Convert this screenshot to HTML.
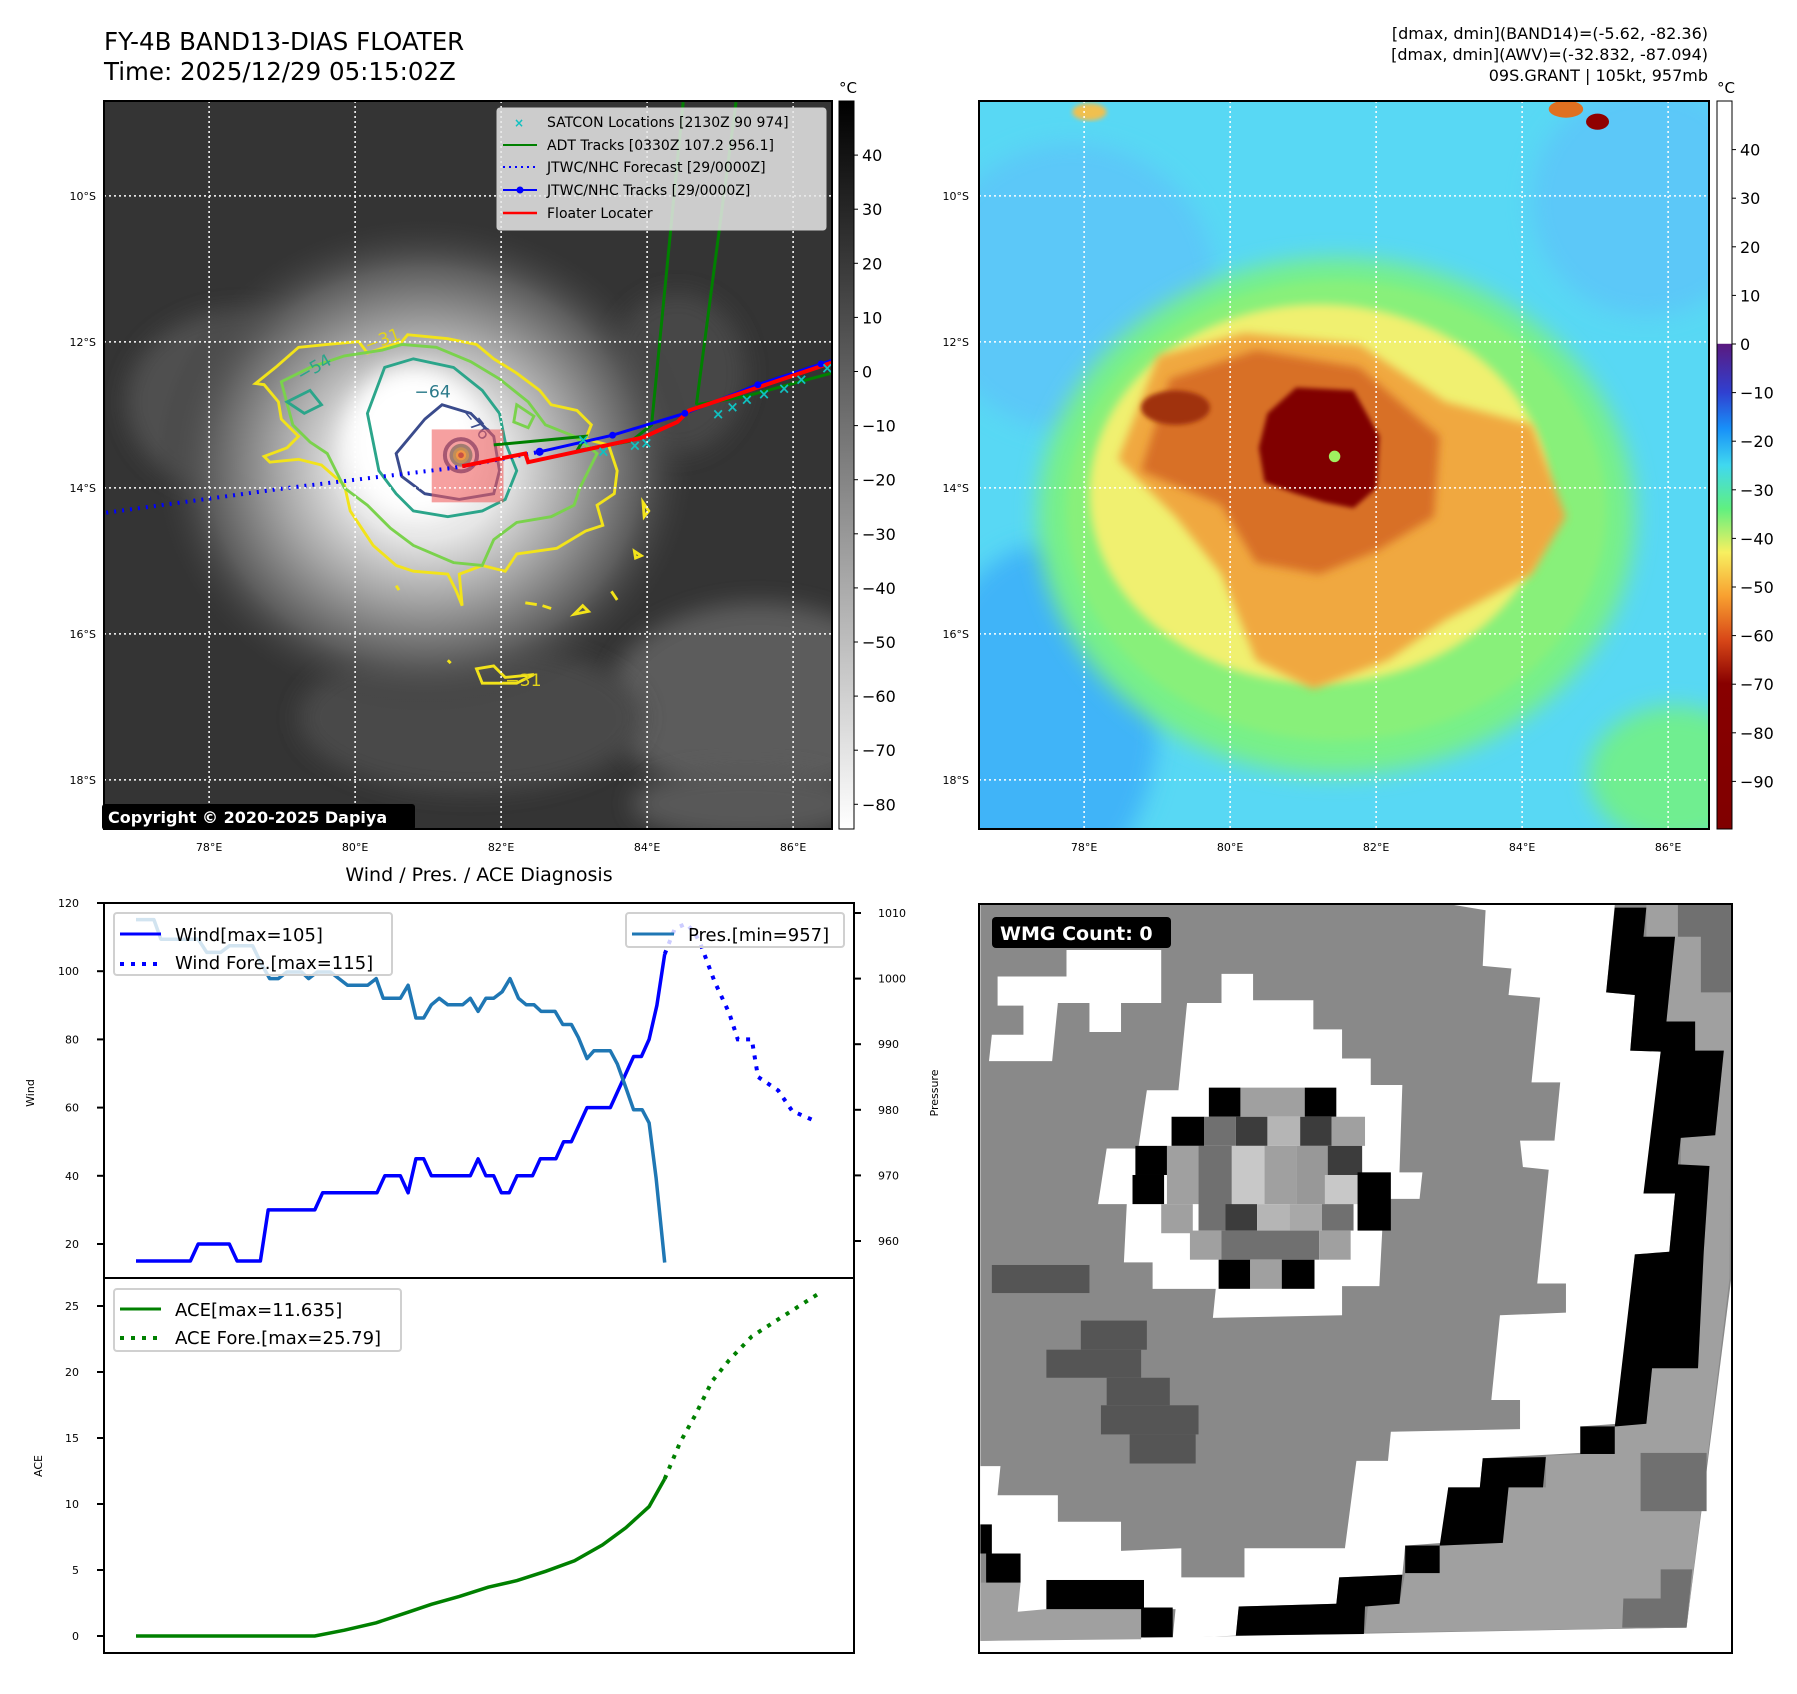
<!DOCTYPE html>
<html><head><meta charset="utf-8">
<style>
html,body{margin:0;padding:0;background:#fff;}
body{width:1797px;height:1690px;overflow:hidden;font-family:"DejaVu Sans","Liberation Sans",sans-serif;}
svg text{font-family:"DejaVu Sans","Liberation Sans",sans-serif;}
</style></head>
<body>
<svg id="root" width="1797" height="1690" viewBox="0 0 1797 1690" xmlns="http://www.w3.org/2000/svg">
<defs>
  <filter id="blur8" x="-20%" y="-20%" width="140%" height="140%"><feGaussianBlur stdDeviation="8"/></filter>
  <filter id="blur20" x="-30%" y="-30%" width="160%" height="160%"><feGaussianBlur stdDeviation="20"/></filter>
  <filter id="blur4"><feGaussianBlur stdDeviation="4"/></filter>
  <radialGradient id="cloudG" cx="0.5" cy="0.5" r="0.5">
    <stop offset="0" stop-color="#ffffff"/>
    <stop offset="0.3" stop-color="#e6e6e6"/>
    <stop offset="0.55" stop-color="#a4a4a4"/>
    <stop offset="0.8" stop-color="#5e5e5e"/>
    <stop offset="1" stop-color="#3a3a3a" stop-opacity="0"/>
  </radialGradient>
  <linearGradient id="cbGray" x1="0" y1="0" x2="0" y2="1">
    <stop offset="0" stop-color="#000"/><stop offset="1" stop-color="#fff"/>
  </linearGradient>
  <linearGradient id="cbJet" x1="0" y1="0" x2="0" y2="1">
    <stop offset="0" stop-color="#ffffff"/>
    <stop offset="0.333" stop-color="#ffffff"/>
    <stop offset="0.334" stop-color="#5a1a80"/>
    <stop offset="0.40" stop-color="#3040d0"/>
    <stop offset="0.45" stop-color="#1890f8"/>
    <stop offset="0.50" stop-color="#40d8f0"/>
    <stop offset="0.56" stop-color="#60f080"/>
    <stop offset="0.62" stop-color="#f8f060"/>
    <stop offset="0.68" stop-color="#f8a030"/>
    <stop offset="0.74" stop-color="#d84818"/>
    <stop offset="0.80" stop-color="#880000"/>
    <stop offset="1" stop-color="#800000"/>
  </linearGradient>
  <clipPath id="clipL"><rect x="104" y="101" width="728" height="728"/></clipPath>
  <clipPath id="clipR"><rect x="979" y="101" width="730" height="728"/></clipPath>
  <clipPath id="clipW"><rect x="979" y="904" width="753" height="749"/></clipPath>
</defs>

<!-- ================= LEFT MAP ================= -->
<text x="104" y="50" font-size="24.5">FY-4B BAND13-DIAS FLOATER</text>
<text x="104" y="80" font-size="24.5">Time: 2025/12/29 05:15:02Z</text>

<g clip-path="url(#clipL)">
  <rect x="104" y="101" width="728" height="728" fill="#343434"/>
  <g transform="scale(0.5741)">
    <ellipse cx="1320" cy="1220" rx="260" ry="170" fill="#5c5c5c" filter="url(#blur20)"/>
    <ellipse cx="820" cy="1250" rx="300" ry="130" fill="#4a4a4a" filter="url(#blur20)"/>
    <ellipse cx="420" cy="700" rx="200" ry="160" fill="#505050" filter="url(#blur20)"/>
    <ellipse cx="1180" cy="650" rx="120" ry="140" fill="#464646" filter="url(#blur20)"/>
    <ellipse cx="1300" cy="1400" rx="200" ry="60" fill="#585858" filter="url(#blur20)"/>
    <ellipse cx="740" cy="810" rx="470" ry="430" fill="url(#cloudG)"/>
    <ellipse cx="720" cy="770" rx="120" ry="130" fill="#fff" filter="url(#blur20)"/>
    <g fill="none" stroke-width="3" vector-effect="non-scaling-stroke">
      <path stroke="#f2e31a" stroke-width="5" d="M445,668 L480,640 L520,605 L570,600 L625,595 L640,615 L700,595 L710,583 L780,590 L830,600 L860,625 L900,650 L940,680 L960,705 L1005,715 L1030,740 L1020,765 L1060,775 L1075,820 L1070,860 L1040,880 L1050,915 L1020,925 L970,955 L900,965 L880,995 L840,985 L800,1000 L805,1055 L795,1030 L780,1000 L720,995 L690,985 L650,950 L630,920 L610,890 L600,845 L560,810 L520,800 L470,805 L460,795 L500,780 L520,760 L490,730 L485,700 L460,670 Z M1120,875 l10,15 l-8,10 Z M1105,960 l12,8 l-10,4 Z M1000,1070 l15,-15 l10,10 Z M915,1050 l20,3 M945,1055 l15,5 M830,1165 l30,-5 l20,20 l50,-5 l-30,15 l-60,0 Z M780,1150 l5,5 M690,1020 l5,8 M1065,1030 l10,15"/>
      <path stroke="#7ad24c" stroke-width="5" d="M490,665 L540,640 L600,620 L665,610 L700,600 L760,605 L820,630 L870,660 L920,700 L950,740 L1000,760 L1040,790 L1010,850 L1000,880 L960,900 L900,910 L860,940 L840,985 L790,980 L720,950 L680,920 L640,880 L600,850 L570,790 L540,770 L510,740 Z M900,705 l30,20 l-10,20 l-25,-10 Z"/>
      <path stroke="#2ba58a" stroke-width="5" d="M670,640 L720,625 L790,640 L840,680 L870,720 L880,770 L900,820 L880,870 L840,890 L780,900 L720,890 L690,860 L660,820 L650,770 L640,720 Z M500,700 l40,-20 l20,25 l-30,15 Z"/>
      <path stroke="#3a4b8c" stroke-width="5" d="M740,730 L770,705 L820,720 L860,760 L870,820 L860,860 L800,870 L740,860 L700,830 L690,790 Z"/>
    </g>
    <circle cx="803" cy="793" r="28" fill="none" stroke="#3a4b8c" stroke-width="4" vector-effect="non-scaling-stroke"/>
    <circle cx="803" cy="793" r="20" fill="#2ba58a"/>
    <circle cx="803" cy="793" r="14" fill="#7ad24c"/>
    <circle cx="803" cy="793" r="9" fill="#f2e31a"/>
    <circle cx="803" cy="793" r="5" fill="#8a3a1a"/>
    <text x="525" y="665" font-size="30" fill="#2ba58a" transform="rotate(-30 525 665)">−54</text>
    <text x="722" y="692" font-size="30" fill="#2b7a8a">−64</text>
    <text x="800" y="720" font-size="30" fill="#3a4b8c" transform="rotate(50 800 720)">−76</text>
    <text x="640" y="612" font-size="30" fill="#e2d31a" transform="rotate(-20 640 612)">−31</text>
    <text x="880" y="1195" font-size="30" fill="#e2d31a">−31</text>
    <rect x="752" y="748" width="125" height="127" fill="#f06060" fill-opacity="0.6"/>
    <g fill="none" vector-effect="non-scaling-stroke">
      <path stroke="#008000" stroke-width="3" vector-effect="non-scaling-stroke" d="M860,775 L1020,760 L1005,785 L1100,768 L1135,740 L1190,178 M1213,705 L1282,178 M1213,705 L1300,690 L1448,650"/>
      <path stroke="#0000ff" stroke-width="4" stroke-dasharray="2,6" vector-effect="non-scaling-stroke" d="M185,893 L500,850 L790,815 L940,787"/>
      <path stroke="#0000ff" stroke-width="3" vector-effect="non-scaling-stroke" d="M940,787 L1067,758 L1193,720 L1320,670 L1448,628"/>
      <path stroke="#ff0000" stroke-width="4" vector-effect="non-scaling-stroke" d="M805,812 L915,790 L920,805 L1120,762 L1180,735 L1200,715 L1448,632"/>
    </g>
    <g fill="#0000ff"><circle cx="940" cy="787" r="7"/><circle cx="1067" cy="758" r="6"/><circle cx="1193" cy="720" r="6"/><circle cx="1320" cy="670" r="6"/><circle cx="1430" cy="634" r="6"/></g>
    <g fill="#10c0c0" font-size="26" font-weight="bold">
      <text x="1005" y="775">×</text><text x="1040" y="795">×</text><text x="1095" y="785">×</text><text x="1115" y="780">×</text>
      <text x="1240" y="730">×</text><text x="1265" y="718">×</text><text x="1290" y="705">×</text><text x="1320" y="695">×</text><text x="1355" y="685">×</text><text x="1385" y="670">×</text><text x="1430" y="650">×</text>
    </g>
  </g>
  <g id="gridL"></g>
</g>
<rect x="104" y="101" width="728" height="728" fill="none" stroke="#000" stroke-width="2"/>

<g>
  <rect x="497" y="108" width="329" height="122" rx="3" fill="#e8e8e8" fill-opacity="0.85" stroke="#ccc"/>
  <text x="519" y="127" font-size="12" fill="#10c0c0" font-weight="bold" text-anchor="middle">×</text>
  <text x="547" y="127" font-size="14">SATCON Locations [2130Z 90 974]</text>
  <line x1="503" y1="145" x2="537" y2="145" stroke="#008000" stroke-width="2"/>
  <text x="547" y="150" font-size="14">ADT Tracks [0330Z 107.2 956.1]</text>
  <line x1="503" y1="167" x2="537" y2="167" stroke="#0000ff" stroke-width="2" stroke-dasharray="2,4"/>
  <text x="547" y="172" font-size="14">JTWC/NHC Forecast [29/0000Z]</text>
  <line x1="503" y1="190" x2="537" y2="190" stroke="#0000ff" stroke-width="2"/><circle cx="520" cy="190" r="3.5" fill="#0000ff"/>
  <text x="547" y="195" font-size="14">JTWC/NHC Tracks [29/0000Z]</text>
  <line x1="503" y1="213" x2="537" y2="213" stroke="#ff0000" stroke-width="2.5"/>
  <text x="547" y="218" font-size="14">Floater Locater</text>
</g>
<g>
  <rect x="102" y="804" width="313" height="26" rx="3" fill="#000"/>
  <text x="108" y="823" font-size="16" font-weight="bold" fill="#fff">Copyright © 2020-2025 Dapiya</text>
</g>

<g>
  <rect x="839" y="101" width="15" height="728" fill="url(#cbGray)" stroke="#000" stroke-width="1"/>
  <text x="848" y="93" font-size="15" text-anchor="middle">°C</text>
  <g id="cbLticks"></g>
</g>

<!-- ================= RIGHT MAP ================= -->
<g font-size="16" text-anchor="end">
  <text x="1708" y="39">[dmax, dmin](BAND14)=(-5.62, -82.36)</text>
  <text x="1708" y="60">[dmax, dmin](AWV)=(-32.832, -87.094)</text>
  <text x="1708" y="81">09S.GRANT | 105kt, 957mb</text>
</g>
<g clip-path="url(#clipR)">
  <rect x="979" y="101" width="730" height="728" fill="#58d8f4"/>
  <g transform="translate(900,0) scale(0.5741)">
    <ellipse cx="250" cy="1250" rx="200" ry="300" fill="#40b4f8" filter="url(#blur20)"/>
    <ellipse cx="300" cy="500" rx="250" ry="250" fill="#5cc8f8" filter="url(#blur20)"/>
    <ellipse cx="1300" cy="350" rx="200" ry="200" fill="#5cc8f8" filter="url(#blur20)"/>
    <ellipse cx="1350" cy="1350" rx="150" ry="120" fill="#70ee90" filter="url(#blur20)"/>
    <ellipse cx="760" cy="900" rx="520" ry="450" fill="#78f088" filter="url(#blur20)"/>
    <ellipse cx="760" cy="890" rx="470" ry="400" fill="#88f07a" filter="url(#blur8)"/>
    <ellipse cx="730" cy="860" rx="400" ry="330" fill="#f0f070" filter="url(#blur8)"/>
    <path d="M380,800 L450,620 L600,580 L800,600 L950,700 L1100,740 L1160,900 L1100,1000 L950,1080 L850,1150 L720,1200 L620,1150 L560,1000 L480,900 Z" fill="#f0a840" filter="url(#blur8)"/>
    <path d="M420,820 L470,660 L620,610 L800,640 L940,760 L930,900 L830,960 L730,1000 L620,980 L560,880 Z" fill="#d87028" filter="url(#blur8)"/>
    <ellipse cx="480" cy="710" rx="60" ry="30" fill="#a03010" filter="url(#blur4)"/>
    <path d="M640,720 L690,675 L790,680 L835,760 L830,850 L790,885 L740,875 L690,860 L635,840 L625,780 Z" fill="#800000" filter="url(#blur4)"/>
    <circle cx="757" cy="795" r="10" fill="#a0f060"/>
    <ellipse cx="1160" cy="190" rx="30" ry="15" fill="#e07020"/>
    <ellipse cx="1215" cy="212" rx="20" ry="14" fill="#900000"/>
    <ellipse cx="330" cy="195" rx="30" ry="15" fill="#f0c050" filter="url(#blur4)"/>
  </g>
  <g id="gridR"></g>
</g>
<rect x="979" y="101" width="730" height="728" fill="none" stroke="#000" stroke-width="2"/>
<g>
  <rect x="1717" y="101" width="15" height="728" fill="url(#cbJet)" stroke="#000" stroke-width="1"/>
  <text x="1726" y="93" font-size="15" text-anchor="middle">°C</text>
  <g id="cbRticks"></g>
</g>

<!-- ================= WIND / PRES / ACE ================= -->
<text x="479" y="881" font-size="19" text-anchor="middle">Wind / Pres. / ACE Diagnosis</text>
<g id="diag"></g>
<rect x="104" y="903" width="750" height="750" fill="none" stroke="#000" stroke-width="2"/>
<line x1="104" y1="1278" x2="854" y2="1278" stroke="#000" stroke-width="2"/>
<text x="34" y="1093" font-size="11" text-anchor="middle" transform="rotate(-90 34 1093)">Wind</text>
<text x="42" y="1466" font-size="11" text-anchor="middle" transform="rotate(-90 42 1466)">ACE</text>
<text x="938" y="1093" font-size="11" text-anchor="middle" transform="rotate(-90 938 1093)">Pressure</text>

<g>
  <rect x="114" y="913" width="278" height="62" rx="3" fill="#fff" fill-opacity="0.8" stroke="#d0d0d0" stroke-width="2"/>
  <line x1="120" y1="934" x2="161" y2="934" stroke="#0000ff" stroke-width="3"/>
  <text x="175" y="941" font-size="18">Wind[max=105]</text>
  <line x1="120" y1="964" x2="161" y2="964" stroke="#0000ff" stroke-width="4" stroke-dasharray="4,7"/>
  <text x="175" y="969" font-size="18">Wind Fore.[max=115]</text>
</g>
<g>
  <rect x="626" y="913" width="218" height="34" rx="3" fill="#fff" fill-opacity="0.8" stroke="#d0d0d0" stroke-width="2"/>
  <line x1="632" y1="934" x2="674" y2="934" stroke="#1f77b4" stroke-width="3"/>
  <text x="688" y="941" font-size="18">Pres.[min=957]</text>
</g>
<g>
  <rect x="114" y="1289" width="287" height="62" rx="3" fill="#fff" fill-opacity="0.8" stroke="#d0d0d0" stroke-width="2"/>
  <line x1="120" y1="1309" x2="161" y2="1309" stroke="#008000" stroke-width="3"/>
  <text x="175" y="1316" font-size="18">ACE[max=11.635]</text>
  <line x1="120" y1="1338" x2="161" y2="1338" stroke="#008000" stroke-width="4" stroke-dasharray="4,7"/>
  <text x="175" y="1344" font-size="18">ACE Fore.[max=25.79]</text>
</g>

<!-- ================= WMG PANEL ================= -->
<g clip-path="url(#clipW)">
  <rect x="979" y="904" width="753" height="749" fill="#fff"/>
  <g transform="translate(900,860) scale(0.5741,0.5294)">
    <polygon fill="#898989" points="140,85 1448,85 1448,790 1370,1450 140,1475"/>
    <g fill="#a0a0a0">
      <polygon points="1300,85 1448,85 1445,790 1370,1450 810,1460 815,1410 870,1405 880,1345 940,1345 940,1295 1050,1290 1060,1185 1125,1185 1125,1125 1245,1120 1245,1065 1300,1065 1310,960 1390,960 1400,740 1410,578 1360,575 1360,525 1420,520 1435,360 1385,360 1385,305 1335,305 1350,145 1300,145"/>
      <polygon points="140,1365 255,1365 255,1415 420,1415 420,1472 140,1475"/>
    </g>
    <g fill="#707070">
      <polygon points="1355,85 1448,85 1448,250 1395,250 1395,145 1355,145"/>
      <rect x="1290" y="1120" width="115" height="110"/>
      <polygon points="1325,1340 1380,1340 1370,1450 1258,1450 1260,1395 1325,1395"/>
    </g>
    <g fill="#555">
      <rect x="160" y="765" width="170" height="53"/>
      <rect x="315" y="870" width="115" height="55"/>
      <rect x="255" y="925" width="165" height="53"/>
      <rect x="360" y="978" width="110" height="52"/>
      <rect x="350" y="1030" width="170" height="55"/>
      <rect x="400" y="1085" width="115" height="55"/>
    </g>
    <g fill="#fff">
      <polygon points="290,170 455,170 455,270 385,270 385,325 330,325 330,270 275,270 265,380 155,380 160,330 215,330 215,275 170,275 170,220 290,220"/>
      <polygon points="560,215 615,215 615,265 720,265 720,320 770,320 770,375 820,375 820,425 875,425 870,590 910,590 905,640 845,640 840,700 835,805 770,805 770,860 545,865 550,810 440,810 440,760 390,760 395,650 345,650 360,545 415,545 430,435 485,435 500,270 560,270"/>
      <polygon points="965,85 1245,85 1230,250 1280,255 1272,360 1325,362 1300,630 1350,630 1340,740 1280,745 1260,960 1250,1065 1185,1070 1185,1120 1015,1130 1010,1185 955,1185 945,1290 880,1295 875,1350 765,1355 760,1405 590,1410 585,1465 475,1470 480,1415 425,1415 425,1360 255,1365 255,1415 205,1420 210,1365 150,1365 155,1310 140,1310 140,1145 175,1145 170,1200 275,1200 275,1250 385,1250 385,1305 490,1300 490,1355 600,1355 600,1300 775,1300 795,1135 850,1135 855,1080 1080,1075 1080,1020 1030,1020 1045,860 1160,855 1160,800 1110,800 1130,585 1085,580 1080,530 1140,530 1150,420 1100,420 1115,260 1060,255 1065,205 1015,200 1020,95"/>
    </g>
    <g fill="#000">
      <polygon points="1245,90 1300,90 1295,145 1350,145 1335,305 1385,305 1385,360 1435,360 1420,520 1360,525 1355,575 1410,578 1400,740 1390,960 1310,960 1300,1065 1245,1070 1280,745 1340,740 1350,630 1295,630 1325,362 1272,360 1280,255 1230,250"/>
      <rect x="1185" y="1070" width="60" height="52"/>
      <polygon points="1015,1130 1125,1128 1120,1185 1060,1185 1050,1290 940,1295 955,1185 1010,1185"/>
      <rect x="880" y="1295" width="60" height="52"/>
      <polygon points="765,1355 875,1350 870,1405 810,1410 808,1462 585,1465 590,1410 760,1405"/>
      <rect x="255" y="1360" width="170" height="55"/>
      <rect x="420" y="1412" width="55" height="56"/>
      <rect x="150" y="1310" width="60" height="55"/>
      <rect x="140" y="1255" width="20" height="55"/>
    </g>
    <g>
      <rect x="538" y="430" width="55" height="55" fill="#000"/><rect x="593" y="430" width="112" height="55" fill="#a0a0a0"/><rect x="705" y="430" width="55" height="55" fill="#000"/>
      <rect x="473" y="485" width="57" height="55" fill="#000"/><rect x="530" y="485" width="55" height="55" fill="#707070"/><rect x="585" y="485" width="55" height="55" fill="#3c3c3c"/><rect x="640" y="485" width="57" height="55" fill="#b5b5b5"/><rect x="697" y="485" width="55" height="55" fill="#3c3c3c"/><rect x="752" y="485" width="58" height="55" fill="#a0a0a0"/>
      <rect x="410" y="540" width="55" height="55" fill="#000"/><rect x="465" y="540" width="55" height="110" fill="#a0a0a0"/><rect x="520" y="540" width="58" height="160" fill="#707070"/><rect x="578" y="540" width="57" height="110" fill="#c8c8c8"/><rect x="635" y="540" width="55" height="110" fill="#a0a0a0"/><rect x="690" y="540" width="55" height="110" fill="#989898"/><rect x="745" y="540" width="60" height="55" fill="#3c3c3c"/>
      <rect x="405" y="595" width="55" height="55" fill="#000"/><rect x="740" y="595" width="57" height="55" fill="#c8c8c8"/><rect x="797" y="590" width="58" height="110" fill="#000"/>
      <rect x="455" y="650" width="55" height="55" fill="#a0a0a0"/><rect x="567" y="650" width="55" height="50" fill="#3c3c3c"/><rect x="622" y="650" width="56" height="50" fill="#b5b5b5"/><rect x="678" y="650" width="57" height="50" fill="#a8a8a8"/><rect x="735" y="650" width="55" height="50" fill="#707070"/>
      <rect x="505" y="700" width="55" height="55" fill="#a0a0a0"/><rect x="560" y="700" width="170" height="55" fill="#707070"/><rect x="730" y="700" width="55" height="55" fill="#a0a0a0"/>
      <rect x="555" y="755" width="55" height="55" fill="#000"/><rect x="610" y="755" width="55" height="55" fill="#a0a0a0"/><rect x="665" y="755" width="57" height="55" fill="#000"/>
    </g>
  </g>
</g>
<rect x="979" y="904" width="753" height="749" fill="none" stroke="#000" stroke-width="2"/>
<g>
  <rect x="992" y="917" width="179" height="31" rx="4" fill="#000"/>
  <text x="1000" y="940" font-size="19" font-weight="bold" fill="#fff">WMG Count: 0</text>
</g>

<script>
const windT = [0,7,8,12,13,16,17,23,24,31,32,34,35,36,37,38,43,44,45,46,47,48,49,51,52,54,55,56,58,61,64,65,66,67,68];
const windV = [15,15,20,20,15,15,30,30,35,35,40,40,35,45,45,40,40,45,40,40,35,35,40,40,45,45,50,50,60,60,75,75,80,90,105];
const windFT = [68,69.3,70.8,71.9,72.6,74.4,76.3,77.4,79.2,80,82.6,84.4,87.4];
const windFV = [105,112.5,114,111,108,97,87.7,80,80,69,65,59,56];
const presT = [0,2.3,3.2,8,9.1,10.9,12,15,16.1,17.2,18.3,19.4,21.3,22.2,23.3,25,27.2,29.8,30.9,31.8,34,35,36,37,38,39,40.1,42,43,44,45,46,47.1,48.1,49.2,50.2,51.2,52.1,53.9,54.9,56,56.9,58,58.9,61,61.9,63,64,65.1,66,66.9,68];
const presV = [1009,1009,1006,1006,1004,1004,1005,1005,1002.3,1000,1000,1001,1001,1000,1001,1001,999,999,1000,997,997,999,994,994,996,997,996,996,997,995,997,997,998,1000,997,996,996,995,995,993,993,991,987.8,989,989,987,983.4,980,980,978,969.6,956.7];
const aceT = [0,23,26.8,30.9,35,38,41.6,45.3,49,52.7,56.4,60,63,66,68];
const aceV = [0,0,0.44,1.0,1.8,2.4,3.0,3.7,4.2,4.9,5.7,6.9,8.2,9.8,11.9];
const aceFT = [68,70,71.9,74.1,76.3,79.2,82.9,87.7];
const aceFV = [11.9,14.7,16.7,19.3,20.9,22.7,24.1,25.9];
const windTicks = [20,40,60,80,100,120];
const presTicks = [960,970,980,990,1000,1010];
const aceTicks = [0,5,10,15,20,25];
const lonTicks = [78,80,82,84,86];
const latTicks = [10,12,14,16,18];
const cbLTicks = [40,30,20,10,0,-10,-20,-30,-40,-50,-60,-70,-80];
const cbRTicks = [40,30,20,10,0,-10,-20,-30,-40,-50,-60,-70,-80,-90];

const NS = 'http://www.w3.org/2000/svg';
function mk(tag, attrs, parent){const e=document.createElementNS(NS,tag);for(const k in attrs)e.setAttribute(k,attrs[k]);parent.appendChild(e);return e;}
const xT = t => 136 + t*7.775;
const yW = w => 903 + (120-w)*3.41;
const yP = p => 913 + (1010-p)*6.56;
const yA = a => 1636 - a*13.2;
const lonX = lon => 104 + (lon-76.56)*73;
const latY = lat => 101 + (lat-8.7)*73;
const cbLY = v => 101 + (50-v)*5.41;
const cbRY = v => 344 - v*4.86;

const diag = document.getElementById('diag');
function pathOf(ts, vs, yf){return ts.map((t,i)=>(i?'L':'M')+xT(t).toFixed(1)+','+yf(vs[i]).toFixed(1)).join(' ');}
let p;
p = mk('path',{d:pathOf(windT,windV,yW),fill:'none',stroke:'#0000ff','stroke-width':3.5,'stroke-linejoin':'round'},diag);


p = mk('path',{d:pathOf(windFT,windFV,yW),fill:'none',stroke:'#0000ff','stroke-width':4,'stroke-dasharray':'4,7'},diag);


p = mk('path',{d:pathOf(presT,presV,yP),fill:'none',stroke:'#1f77b4','stroke-width':3.5,'stroke-linejoin':'round'},diag);


p = mk('path',{d:pathOf(aceT,aceV,yA),fill:'none',stroke:'#008000','stroke-width':3.5},diag);


p = mk('path',{d:pathOf(aceFT,aceFV,yA),fill:'none',stroke:'#008000','stroke-width':4,'stroke-dasharray':'4,7'},diag);



windTicks.forEach(v=>{const y=yW(v);mk('line',{x1:97,y1:y,x2:104,y2:y,stroke:'#000','stroke-width':2},diag);
  const t=mk('text',{x:79,y:y+4,'font-size':11,'text-anchor':'end'},diag);t.textContent=v;
  
  });
presTicks.forEach(v=>{const y=yP(v);mk('line',{x1:854,y1:y,x2:861,y2:y,stroke:'#000','stroke-width':2},diag);
  const t=mk('text',{x:878,y:y+4,'font-size':11},diag);t.textContent=v;
  
  });
aceTicks.forEach(v=>{const y=yA(v);mk('line',{x1:97,y1:y,x2:104,y2:y,stroke:'#000','stroke-width':2},diag);
  const t=mk('text',{x:79,y:y+4,'font-size':11,'text-anchor':'end'},diag);t.textContent=v;
  
  });

function drawGrid(gid, dx){
  const g=document.getElementById(gid);
  lonTicks.forEach(l=>{const x=lonX(l)+dx;mk('line',{x1:x,y1:101,x2:x,y2:829,stroke:'#fff','stroke-width':1.5,'stroke-dasharray':'2,3'},g);});
  latTicks.forEach(l=>{const y=latY(l);mk('line',{x1:104+dx,y1:y,x2:832+dx,y2:y,stroke:'#fff','stroke-width':1.5,'stroke-dasharray':'2,3'},g);});
  const root=document.getElementById('root');
  lonTicks.forEach(l=>{const t=mk('text',{x:lonX(l)+dx,y:851,'font-size':11,'text-anchor':'middle'},root);t.textContent=l+'°E';
    
    });
  latTicks.forEach(l=>{const t=mk('text',{x:96+dx-(dx?2:0),y:latY(l)+4,'font-size':11,'text-anchor':'end'},root);t.textContent=l+'°S';
    
    });
}
drawGrid('gridL',0);
drawGrid('gridR',875);
const gL=document.getElementById('cbLticks');
cbLTicks.forEach(v=>{const y=cbLY(v);mk('line',{x1:854,y1:y,x2:858,y2:y,stroke:'#000'},gL);
  const t=mk('text',{x:862,y:y+6,'font-size':16},gL);t.textContent=String(v).replace('-','−');
  
  });
const gR=document.getElementById('cbRticks');
cbRTicks.forEach(v=>{const y=cbRY(v);mk('line',{x1:1732,y1:y,x2:1736,y2:y,stroke:'#000'},gR);
  const t=mk('text',{x:1740,y:y+6,'font-size':16},gR);t.textContent=String(v).replace('-','−');
  
  });
</script>
</body></html>
